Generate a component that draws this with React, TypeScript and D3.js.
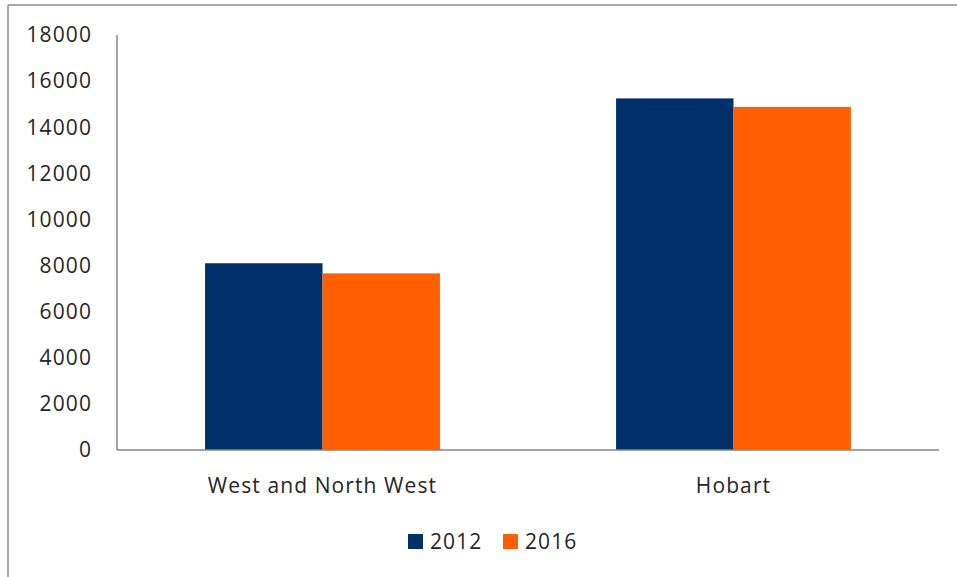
import React from "react";
import * as d3 from "d3";

const regions = ["West and North West", "Hobart"];
const years = ["2012", "2016"];
const values2012 = [8100, 15250];
const values2016 = [7660, 14880];
const yTicks = [0, 2000, 4000, 6000, 8000, 10000, 12000, 14000, 16000, 18000];
const colors = ["#003069", "#ff5f00"];

const width = 957;
const height = 577;
const font = "'Open Sans', sans-serif";
const fs = 21;
const ls = 1.1;

const App = () => {
  const left = 117;
  const right = 939;
  const top = 35;
  const bottom = 450;

  const y = d3.scaleLinear().domain([0, 18000]).range([bottom, top]);
  const x = d3.scaleBand().domain(regions).range([left, right]).paddingInner(0).paddingOuter(0);
  // excel gap width 150%: group = 2 bars, gap = 1.5 bar
  const barW = x.bandwidth() / 3.5;
  const series = [values2012, values2016];

  return (
    <svg width={width} height={height} style={{ position: "absolute", left: 0, top: 0 }}>
      <rect x={0} y={0} width={width} height={height} fill="#fff" />
      <line x1={8} x2={width} y1={5} y2={5} stroke="#8c8c8c" strokeWidth={1.5} />
      <line x1={8} x2={8} y1={5} y2={height} stroke="#8c8c8c" strokeWidth={1.5} />

      {series.map((vals, si) =>
        regions.map((r, i) => {
          const x0 = (x(r) as number) + x.bandwidth() / 2 - barW + si * barW;
          return (
            <rect
              key={r + si}
              x={x0}
              y={y(vals[i])}
              width={barW}
              height={bottom - y(vals[i])}
              fill={colors[si]}
            />
          );
        })
      )}

      <line x1={left} x2={left} y1={top} y2={bottom} stroke="#868686" strokeWidth={1.5} />
      <line x1={left} x2={right} y1={bottom} y2={bottom} stroke="#868686" strokeWidth={1.5} />

      {yTicks.map(t => (
        <text
          key={t}
          x={92}
          y={y(t)}
          dy="0.35em"
          textAnchor="end"
          fontFamily={font}
          fontSize={fs}
          letterSpacing={ls}
          fill="#262626"
        >
          {t}
        </text>
      ))}

      {regions.map(r => (
        <text
          key={r}
          x={(x(r) as number) + x.bandwidth() / 2}
          y={493}
          textAnchor="middle"
          fontFamily={font}
          fontSize={fs}
          letterSpacing={ls}
          fill="#262626"
        >
          {r}
        </text>
      ))}

      {years.map((yr, i) => (
        <g key={yr} transform={`translate(${408 + i * 95},534)`}>
          <rect x={0} y={0} width={15} height={15} fill={colors[i]} />
          <text x={22} y={15} fontFamily={font} fontSize={fs} letterSpacing={ls} fill="#262626">
            {yr}
          </text>
        </g>
      ))}
    </svg>
  );
};

export default App;
